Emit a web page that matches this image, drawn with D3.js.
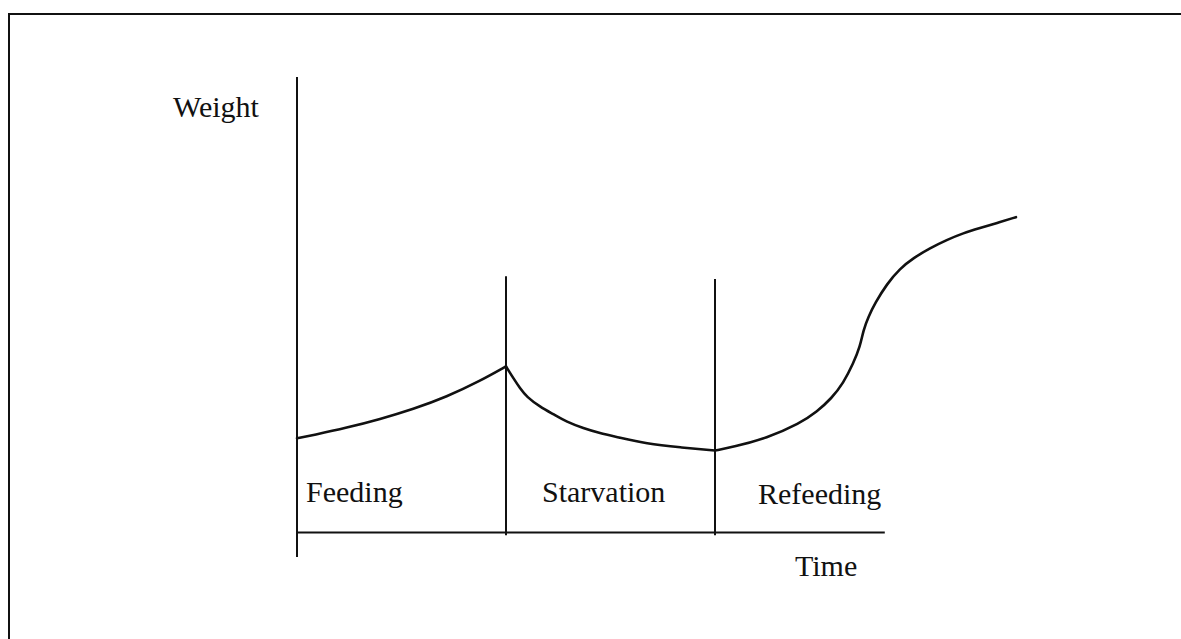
<!DOCTYPE html>
<html>
<head>
<meta charset="utf-8">
<script src="https://cdn.jsdelivr.net/npm/d3@7"></script>
<style>
  html, body { margin: 0; padding: 0; background: #fff; overflow: hidden; }
  text { font-family: "Liberation Serif", "Times New Roman", serif; fill: #111; }
</style>
</head>
<body>
<div id="chart"></div>
<script>
// phases of the experiment, time in phase units
var phases = ["Feeding", "Starvation", "Refeeding"];
var phaseBounds = [0, 1, 2, 3];

// weight curve, one array per phase (time, weight)
var feedingT = [0, 0.077, 0.238, 0.397, 0.556, 0.716, 0.876, 1.0];
var feedingW = [20.6, 21.3, 22.9, 24.8, 27.0, 29.7, 33.2, 36.4];
var starveT = [1.0, 1.035, 1.067, 1.099, 1.163, 1.226, 1.290, 1.370, 1.450, 1.530, 1.673, 1.833, 2.0];
var starveW = [36.4, 33.8, 31.6, 29.7, 27.5, 25.9, 24.2, 22.8, 21.7, 20.9, 19.4, 18.6, 17.9];
var refeedT = [2.0, 2.088, 2.247, 2.407, 2.487, 2.558, 2.614, 2.662, 2.694, 2.710, 2.734, 2.766, 2.822, 2.885, 2.949, 3.029, 3.109, 3.188, 3.268, 3.348, 3.440];
var refeedW = [17.9, 18.7, 20.6, 23.9, 26.4, 29.4, 32.7, 37.1, 40.7, 44.4, 47.3, 50.3, 54.5, 57.9, 60.2, 62.4, 64.2, 65.7, 66.8, 67.9, 69.2];

var width = 1181, height = 639;

var svg = d3.select("#chart").append("svg")
  .attr("width", width)
  .attr("height", height);

// frame (right and bottom sides fall outside the picture)
svg.append("rect")
  .attr("x", 9).attr("y", 14)
  .attr("width", 1200).attr("height", 660)
  .attr("fill", "none").attr("stroke", "#111").attr("stroke-width", 2);

var x = d3.scaleLinear().domain([0, 3]).range([297, 924]);
var y = d3.scaleLinear().domain([0, 100]).range([532, 77]);

var g = svg.append("g");

// y axis, runs a little below the time axis
g.append("line")
  .attr("x1", x(0)).attr("x2", x(0))
  .attr("y1", y(100)).attr("y2", y(-5.5))
  .attr("stroke", "#111").attr("stroke-width", 2);

// time axis, no ticks
g.append("g")
  .attr("transform", "translate(0," + y(0) + ")")
  .call(d3.axisBottom(d3.scaleLinear().domain([0, 2.81]).range([x(0), x(2.81)])).tickValues([]).tickSizeOuter(0))
  .call(function(a){ a.select(".domain").attr("stroke", "#111").attr("stroke-width", 2); });

// phase dividers
var divTop = [56.2, 55.6];
g.selectAll(".divider")
  .data(phaseBounds.slice(1, 3)).enter().append("line")
  .attr("class", "divider")
  .attr("x1", function(d){ return x(d); })
  .attr("x2", function(d){ return x(d); })
  .attr("y1", function(d, i){ return y(divTop[i]); })
  .attr("y2", y(-0.7))
  .attr("stroke", "#111").attr("stroke-width", 2);

// weight curve, smoothed through the read-off points
var line = d3.line()
  .x(function(d){ return x(d[0]); })
  .y(function(d){ return y(d[1]); })
  .curve(d3.curveBasis);

[[feedingT, feedingW], [starveT, starveW], [refeedT, refeedW]].forEach(function(s){
  g.append("path")
    .datum(d3.zip(s[0], s[1]))
    .attr("d", line)
    .attr("fill", "none")
    .attr("stroke", "#111")
    .attr("stroke-width", 2.6)
    .attr("stroke-linejoin", "round")
    .attr("stroke-linecap", "round");
});

// phase labels
var labelOffset = [9, 36, 43];
g.selectAll(".phase")
  .data(phases).enter().append("text")
  .attr("class", "phase")
  .attr("x", function(d, i){ return x(phaseBounds[i]) + labelOffset[i]; })
  .attr("y", function(d, i){ return i == 2 ? 504 : 502; })
  .attr("font-size", "30px")
  .text(function(d){ return d; });

g.append("text")
  .attr("x", 173).attr("y", 117)
  .attr("font-size", "30px")
  .text("Weight");

g.append("text")
  .attr("x", 795).attr("y", 576)
  .attr("font-size", "30px")
  .text("Time");
</script>
</body>
</html>
